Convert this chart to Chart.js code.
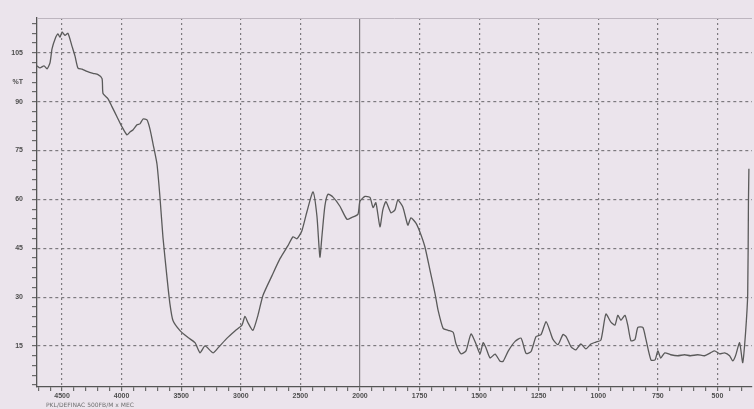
<!DOCTYPE html>
<html>
<head>
<meta charset="utf-8">
<script src="https://cdn.jsdelivr.net/npm/chart.js"></script>
<style>
  html, body { margin: 0; padding: 0; background: #ebe4ec; }
  #wrap { position: relative; width: 754px; height: 409px; overflow: hidden; }
  #note { position: absolute; left: 46px; top: 401px; font: 6px 'DejaVu Sans', sans-serif; color: #707070; white-space: nowrap; }
</style>
</head>
<body>
<div id="wrap">
  <canvas id="irChart" width="754" height="409"></canvas>
  <div id="note">PKL/DEFINAC 500FB/M x MEC</div>
</div>
<script>
var irCtx = document.getElementById('irChart').getContext('2d');

// spectrum (cm-1, %T)
var wavenumbers = [4710,4685,4651,4626,4601,4584,4559,4534,4517,4500,
  4475,4450,4416,4391,4366,4332,4290,4240,4198,4164,
  4156,4114,4081,4039,3997,3955,3930,3905,3871,3846,
  3820,3787,3762,3736,3703,3678,3653,3619,3594,3569,
  3510,3443,3384,3342,3300,3233,3191,3115,3049,2990,
  2965,2938,2898,2856,2814,2738,2671,2604,2562,2529,
  2487,2445,2394,2361,2336,2319,2294,2268,2226,2168,
  2109,2067,2017,2000,1979,1958,1945,1933,1916,1904,
  1891,1870,1853,1841,1820,1799,1786,1765,1748,1727,
  1706,1685,1672,1651,1630,1609,1597,1576,1555,1534,
  1513,1496,1483,1471,1454,1433,1412,1399,1378,1349,
  1324,1303,1282,1261,1240,1219,1202,1190,1169,1148,
  1135,1114,1094,1073,1052,1031,1010,989,968,947,
  930,918,905,888,876,863,846,834,813,800,
  779,762,750,738,721,696,667,638,613,583,
  554,529,512,491,470,449,436,424,407,394,
  382,373,370,368];
var transmittance = [101.0,100.4,101.0,100.1,101.9,106.2,109.2,110.8,109.8,111.4,
  110.4,111.0,107.0,104.0,100.3,100.0,99.3,98.7,98.3,97.1,
  92.5,90.9,88.5,85.4,82.3,79.8,80.7,81.3,82.9,83.2,
  84.7,84.4,81.6,77.0,70.8,60.6,48.4,36.0,27.8,22.8,
  19.7,17.6,16.0,12.9,15.0,12.9,14.4,17.4,19.6,21.4,
  24.1,22.0,19.8,24.4,30.5,36.6,41.8,45.8,48.5,47.9,
  50.4,56.2,62.3,54.9,42.3,48.7,58.0,61.6,60.7,57.9,
  53.9,54.5,55.4,59.4,60.9,60.6,57.5,59.0,51.6,56.8,
  59.3,55.9,56.8,59.8,57.7,52.1,54.3,52.7,49.9,45.3,
  38.2,31.1,25.9,20.4,19.8,19.2,15.7,12.6,13.5,18.7,
  15.6,12.6,16.0,14.4,11.3,12.5,10.3,10.3,13.4,16.4,
  17.4,12.7,13.3,17.9,18.5,22.5,19.4,17.0,15.4,18.5,
  17.9,14.7,13.8,15.6,14.1,15.6,16.2,16.8,24.8,22.3,
  21.4,24.4,22.9,24.4,21.3,16.6,17.0,20.7,20.7,17.0,
  10.7,10.7,13.5,11.3,12.9,12.3,12.0,12.3,12.0,12.3,
  12.0,12.9,13.5,12.6,12.9,12.0,10.4,12.0,16.0,9.9,
  19.1,31.0,58.6,69.4];

var xLabelValues = [4500, 4000, 3500, 3000, 2500, 2000, 1750, 1500, 1250, 1000, 750, 500];
var yLabelValues = [15, 30, 45, 60, 75, 90, 105];
var yUnitLabel = '%T';
var yUnitAt = 96;

// chart paper: 500 cm-1 per division above 2000, 250 below
function wnToPos(wn) {
  return wn >= 2000 ? (4500 - wn) / 500 : 5 + (2000 - wn) / 250;
}

var points = wavenumbers.map(function (wn, i) {
  return { x: wnToPos(wn), y: transmittance[i] };
});

var paperEdge = {
  id: 'paperEdge',
  beforeDatasetsDraw: function (chart) {
    var a = chart.chartArea, c = chart.ctx;
    c.save();
    c.strokeStyle = '#bdb5bf';
    c.lineWidth = 1;
    c.beginPath();
    c.moveTo(a.left, a.top + 0.5);
    c.lineTo(a.right, a.top + 0.5);
    c.stroke();
    c.restore();
  }
};

var labelFont = { family: 'Liberation Sans', size: 7, weight: 'bold' };

var irChart = new Chart(irCtx, {
  type: 'line',
  data: {
    datasets: [{
      data: points,
      borderColor: '#5a5a5a',
      borderWidth: 1.3,
      pointRadius: 0,
      tension: 0.2,
      fill: false
    }]
  },
  options: {
    responsive: false,
    animation: false,
    layout: { padding: { top: 18, right: 2, left: 0, bottom: 0 } },
    plugins: { legend: { display: false }, tooltip: { enabled: false } },
    scales: {
      x: {
        type: 'linear',
        min: -0.42,
        max: 11.58,
        afterFit: function (s) { s.height = 22; },
        afterBuildTicks: function (s) {
          var t = [];
          for (var k = -2; k <= 57; k++) t.push({ value: k / 5 });
          s.ticks = t;
        },
        ticks: {
          autoSkip: false,
          maxRotation: 0,
          padding: 1,
          color: '#4e4e4e',
          font: labelFont,
          callback: function (value) {
            for (var i = 0; i < xLabelValues.length; i++) {
              if (Math.abs(wnToPos(xLabelValues[i]) - value) < 1e-6) return String(xLabelValues[i]);
            }
            return '';
          }
        },
        grid: {
          color: function (c) { return c.tick && Number.isInteger(c.tick.value) ? '#7d7a7f' : 'rgba(0,0,0,0)'; },
          lineWidth: 1.2,
          tickLength: 4,
          tickColor: '#6a6a6a'
        },
        border: {
          display: true,
          color: '#555',
          width: 1.3,
          dash: function (c) { return c.tick && c.tick.value === 5 ? [] : [2, 3]; }
        }
      },
      y: {
        type: 'linear',
        min: 2.4,
        max: 115.7,
        afterFit: function (s) { s.width = 37; },
        afterBuildTicks: function (s) {
          var t = [];
          for (var v = 3; v <= 114; v += 3) t.push({ value: v });
          s.ticks = t;
        },
        ticks: {
          autoSkip: false,
          padding: 9,
          color: '#4e4e4e',
          font: labelFont,
          callback: function (value) {
            if (yLabelValues.indexOf(value) >= 0) return String(value);
            if (value === yUnitAt) return yUnitLabel;
            return '';
          }
        },
        grid: {
          color: function (c) { return c.tick && yLabelValues.indexOf(c.tick.value) >= 0 ? '#7d7a7f' : 'rgba(0,0,0,0)'; },
          lineWidth: 1.2,
          tickLength: 5,
          tickColor: '#6a6a6a'
        },
        border: {
          display: true,
          color: '#555',
          width: 1.3,
          dash: [3, 3]
        }
      }
    }
  },
  plugins: [paperEdge]
});
</script>
</body>
</html>
